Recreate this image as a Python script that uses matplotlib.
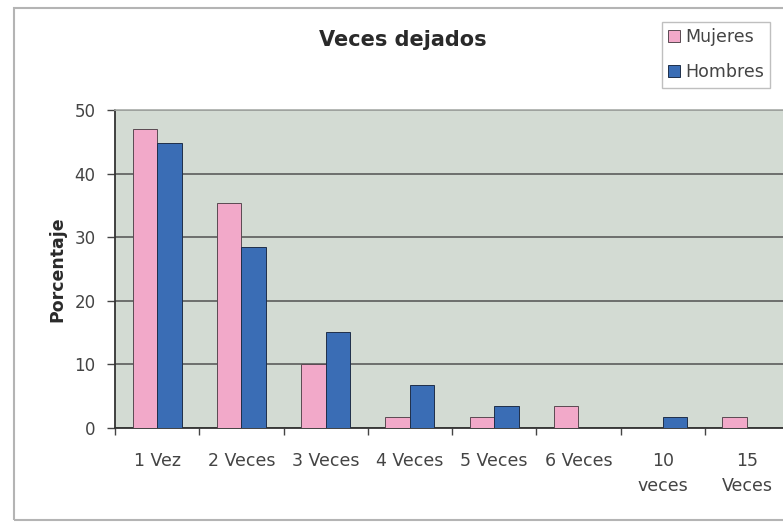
import numpy as np
import matplotlib
matplotlib.use("Agg")
import matplotlib.pyplot as plt
from matplotlib.patches import Rectangle

# Datos (porcentaje)
categorias = ["1 Vez", "2 Veces", "3 Veces", "4 Veces", "5 Veces", "6 Veces",
              "10\nveces", "15\nVeces"]
mujeres = [47.0, 35.4, 10.1, 1.8, 1.8, 3.4, 0.0, 1.7]
hombres = [44.8, 28.4, 15.1, 6.8, 3.4, 0.0, 1.7, 0.0]

C_PINK = "#f2a9c9"
C_BLUE = "#3a6db5"
C_BG = "#d3dbd3"
C_TXT = "#444444"

plt.rcParams["font.family"] = ["DejaVu Sans"]

W, H = 783, 524
fig = plt.figure(figsize=(W / 100, H / 100), dpi=100)

# marco exterior del grafico (se corta por la derecha como en la imagen)
fig.patches.append(Rectangle((14 / W, 1 - 520 / H), 800 / W, (520 - 8) / H,
                             transform=fig.transFigure, fill=False,
                             edgecolor="#b4b4b4", linewidth=1.5))

# area de trazado: de x=115 a ~789 px (8 categorias), y de 110 a 428 px
ax = fig.add_axes([115 / W, 1 - 428 / H, 674 / W, (428 - 110) / H])
ax.set_facecolor(C_BG)

x = np.arange(len(categorias))
bw = 0.29
ax.bar(x - bw / 2, mujeres, bw, color=C_PINK, edgecolor="#5a4a52",
       linewidth=0.7, label="Mujeres", zorder=3)
ax.bar(x + bw / 2, hombres, bw, color=C_BLUE, edgecolor="#1f2f4a",
       linewidth=0.7, label="Hombres", zorder=3)

ax.set_xlim(-0.5, len(categorias) - 0.5)
ax.set_ylim(0, 50)
ax.set_yticks([0, 10, 20, 30, 40, 50])
ax.yaxis.grid(True, color="#5c5c5c", linewidth=1.2, zorder=1)
ax.set_axisbelow(True)

ax.set_xticks(x)
ax.set_xticklabels(categorias, fontsize=12.5, color=C_TXT, linespacing=1.5)
ax.set_xticks(np.arange(len(categorias) + 1) - 0.5, minor=True)
ax.tick_params(axis="x", which="major", length=0, pad=17)
ax.tick_params(axis="x", which="minor", length=5, width=1, color="#444444",
               direction="out")
ax.tick_params(axis="y", length=6, width=1, color="#444444", pad=8,
               labelsize=12, labelcolor=C_TXT)
for t in ax.get_xticklabels():
    t.set_verticalalignment("top")

for s in ["top", "right"]:
    ax.spines[s].set_color("#a8aca8")
    ax.spines[s].set_linewidth(1.2)
ax.spines["left"].set_color("#333333")
ax.spines["bottom"].set_color("#333333")
ax.spines["left"].set_linewidth(1.3)
ax.spines["bottom"].set_linewidth(1.3)

ax.set_ylabel("Porcentaje", fontsize=12.5, fontweight="bold", color="#2a2a2a",
              labelpad=6)

fig.text(403 / W, 1 - 40 / H, "Veces dejados", fontsize=15, fontweight="bold",
         color="#2a2a2a", ha="center", va="center")

leg = fig.legend(loc="upper left", bbox_to_anchor=(662 / W, 1 - 22 / H),
                 bbox_transform=fig.transFigure, borderaxespad=0,
                 fontsize=12.5, frameon=True, fancybox=False,
                 handlelength=0.7, handleheight=0.7, handletextpad=0.3,
                 labelspacing=1.0, borderpad=0.35)
leg.get_frame().set_edgecolor("#b0b0b0")
leg.get_frame().set_linewidth(1.0)
for t in leg.get_texts():
    t.set_color(C_TXT)

fig.savefig("out.png", dpi=100)
